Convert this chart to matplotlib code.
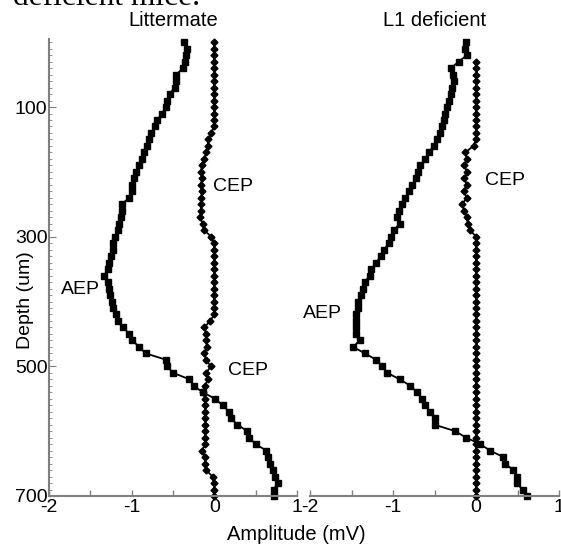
import numpy as np
import matplotlib.pyplot as plt

# depths in um, one point every 10 um
depth = np.arange(0, 710, 10)

# Littermate
lit_aep = [-0.37, -0.33, -0.34, -0.36, -0.38, -0.46, -0.46, -0.48, -0.54, -0.57,
           -0.59, -0.63, -0.69, -0.72, -0.76, -0.79, -0.81, -0.85, -0.88, -0.91,
           -0.95, -0.97, -0.99, -0.99, -1.03, -1.12, -1.12, -1.13, -1.15, -1.17,
           -1.20, -1.22, -1.23, -1.25, -1.27, -1.29, -1.33, -1.29, -1.27, -1.26,
           -1.24, -1.23, -1.19, -1.16, -1.10, -1.03, -0.99, -0.91, -0.83, -0.58,
           -0.57, -0.50, -0.30, -0.25, -0.14, 0.01, 0.10, 0.18, 0.20, 0.28,
           0.40, 0.42, 0.50, 0.63, 0.65, 0.67, 0.71, 0.73, 0.77, 0.72, 0.72]
lit_cep = [0.0, 0.0, 0.0, 0.0, 0.0, 0.0, 0.0, 0.0, 0.0, 0.0,
           0.0, 0.0, 0.0, 0.0, -0.04, -0.07, -0.08, -0.10, -0.12, -0.15,
           -0.16, -0.15, -0.16, -0.15, -0.16, -0.16, -0.16, -0.17, -0.14, -0.12,
           -0.04, 0.0, 0.0, 0.0, 0.0, 0.0, 0.0, 0.0, 0.0, 0.0,
           0.0, 0.0, 0.0, -0.05, -0.12, -0.10, -0.10, -0.09, -0.12, -0.10,
           -0.04, -0.10, -0.08, -0.11, -0.14, -0.11, -0.11, -0.11, -0.11, -0.11,
           -0.11, -0.11, -0.11, -0.15, -0.11, -0.11, -0.10, -0.02, 0.0, 0.0, 0.0]

# L1 deficient
l1_aep = [-0.12, -0.13, -0.11, -0.21, -0.30, -0.28, -0.26, -0.29, -0.30, -0.33,
          -0.35, -0.37, -0.39, -0.41, -0.43, -0.47, -0.51, -0.57, -0.61, -0.67,
          -0.70, -0.72, -0.77, -0.81, -0.85, -0.89, -0.93, -0.95, -0.92, -0.99,
          -1.03, -1.05, -1.11, -1.15, -1.20, -1.26, -1.28, -1.34, -1.36, -1.39,
          -1.42, -1.42, -1.44, -1.44, -1.44, -1.44, -1.40, -1.48, -1.34, -1.20,
          -1.13, -1.07, -0.92, -0.79, -0.71, -0.65, -0.61, -0.56, -0.49, -0.50,
          -0.25, -0.12, 0.05, 0.17, 0.33, 0.35, 0.45, 0.49, 0.49, 0.56, 0.61]
l1_cep_depth = np.arange(30, 710, 10)
l1_cep = [0.0] * 13 + [-0.03, -0.13, -0.11, -0.14, -0.11, -0.14, -0.11, -0.15,
                       -0.11, -0.17, -0.14, -0.11, -0.10, -0.07] + [0.0] * 41

plt.rcParams['font.family'] = ['Liberation Sans', 'DejaVu Sans']
plt.rcParams['font.size'] = 14

fig = plt.figure(figsize=(5.61, 5.48), dpi=100)
ax1 = fig.add_axes([0.0873, 0.0949, 0.442, 0.834])
ax2 = fig.add_axes([0.5526, 0.0949, 0.4439, 0.834])

gray = '#808080'
for ax in (ax1, ax2):
    ax.set_xlim(-2, 1)
    ax.set_ylim(700, -5)
    ax.set_xticks([-2, -1, 0, 1])
    ax.set_xticklabels(['-2', '-1', '0', '1'])
    ax.set_xticks([-1.5, -0.5, 0.5], minor=True)
    ax.tick_params(axis='x', which='both', direction='in', length=4, width=1,
                   color=gray, pad=2)
    for s in ['top', 'right']:
        ax.spines[s].set_visible(False)
    ax.spines['bottom'].set_color(gray)
    ax.spines['bottom'].set_linewidth(1.5)

ax1.set_yticks([100, 300, 500, 700])
ax1.set_yticks(np.arange(0, 701, 10), minor=True)
ax1.tick_params(axis='y', which='major', direction='in', length=5, color=gray, pad=1)
ax1.tick_params(axis='y', which='minor', direction='in', length=2.5, color=gray)
ax1.spines['left'].set_color(gray)
ax1.spines['left'].set_linewidth(1.5)

ax2.spines['left'].set_visible(False)
ax2.set_yticks([])

ax1.plot(lit_aep, depth, color='black', lw=1.3, marker='s', ms=5, clip_on=False)
ax1.plot(lit_cep, depth, color='black', lw=1.3, marker='D', ms=3.5, clip_on=False)
ax2.plot(l1_aep, depth, color='black', lw=1.3, marker='s', ms=5, clip_on=False)
ax2.plot(l1_cep, l1_cep_depth, color='black', lw=1.3, marker='D', ms=3.5, clip_on=False)

ax1.set_title('Littermate', fontsize=14.5, pad=9)
ax2.set_title('L1 deficient', fontsize=14.5, pad=9)

ax1.text(-0.02, 222, 'CEP', va='center', ha='left')
ax1.text(-1.85, 382, 'AEP', va='center', ha='left')
ax1.text(0.16, 507, 'CEP', va='center', ha='left')
ax2.text(0.11, 214, 'CEP', va='center', ha='left')
ax2.text(-2.08, 418, 'AEP', va='center', ha='left', clip_on=False)

fig.text(26 / 561, 1 - 300 / 548, 'Depth (um)', rotation=90, ha='center', va='center')
fig.text(296 / 561, 1 - 535 / 548, 'Amplitude (mV)', ha='center', va='center',
         fontsize=14.5)

# caption line from the page above, cut by the crop
fig.text(13 / 561, 1 - 5 / 548, 'deficient mice.', family='Liberation Serif',
         fontsize=22.7, ha='left', va='baseline')

fig.savefig('out.png', dpi=100)
